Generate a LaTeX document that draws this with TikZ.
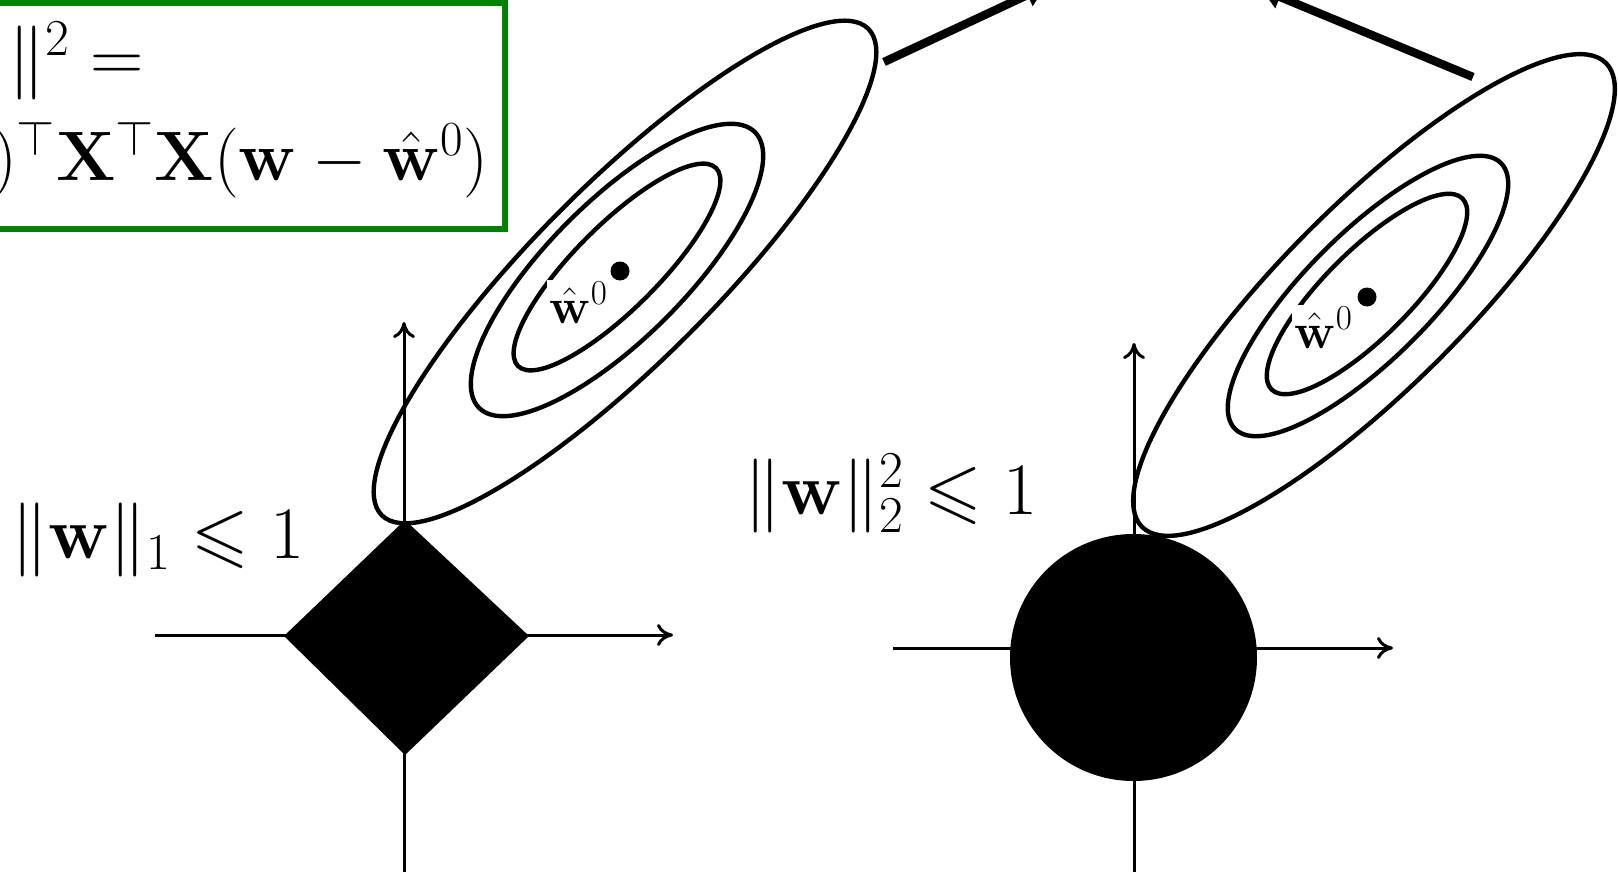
\RequirePackage{fix-cm}
\documentclass[tikz,border=0pt]{standalone}
\usepackage{amsmath,amssymb}
\usetikzlibrary{arrows.meta}
\definecolor{boxgreen}{RGB}{0,128,0}
\begin{document}
\begin{tikzpicture}[x=0.5pt,y=-0.5pt,
  contour/.style={line width=2.2pt},
  axis/.style={line width=1.5pt,-{To[length=8pt,width=11pt]}},
  bigarrow/.style={line width=4.2pt,-{Latex[length=13pt,width=13pt]}},
  bigtext/.style={inner sep=0pt,font=\fontsize{37}{42}\selectfont},
  formtext/.style={inner sep=0pt,font=\fontsize{35}{40}\selectfont},
  minlabel/.style={fill=white,inner sep=1pt,font=\fontsize{25}{28}\selectfont},
  dot/.style={circle,fill=black,inner sep=0pt,minimum size=9.5pt}]
\useasboundingbox (0,0) rectangle (1618,872);

% green box with the formula
\draw[boxgreen,line width=3pt] (-20,3) rectangle (505,229);
\node[bigtext,anchor=base west] (f1) at (8,82) {$\|^2 =$};
\node[formtext,anchor=base east] (f2) at (489,181)
  {$)^{\top}\mathbf{X}^{\top}\mathbf{X}(\mathbf{w}-\hat{\mathbf{w}}^0)$};

% ---- left: L1 ball ----
\draw[contour,rotate around={45:(625,272)}] (625,272) ellipse [x radius=344, y radius=89];
\draw[contour,rotate around={45:(617,270)}] (617,270) ellipse [x radius=195, y radius=68.6];
\draw[contour,rotate around={45:(617,267)}] (617,267) ellipse [x radius=140, y radius=42];
\node[dot] (d1) at (620,271) {};
\node[minlabel,anchor=base west] (w1) at (547,323) {$\hat{\mathbf{w}}^0$};

\coordinate (h1s) at (155,635);
\coordinate (h1e) at (673,635);
\coordinate (v1s) at (404,872);
\coordinate (v1e) at (404,322);
\draw[axis] (h1s) -- (h1e);
\draw[axis] (v1s) -- (v1e);
\fill (405,520) -- (529,636) -- (405,755) -- (284,636) -- cycle;
\node[bigtext,anchor=base west] (l1) at (11,558) {$\|\mathbf{w}\|_1 \leqslant 1$};

% ---- right: L2 ball ----
\draw[contour,rotate around={45:(1374,295)}] (1374,295) ellipse [x radius=328, y radius=91.5];
\draw[contour,rotate around={45:(1368,296)}] (1368,296) ellipse [x radius=188, y radius=63];
\draw[contour,rotate around={45:(1367,294)}] (1367,294) ellipse [x radius=135, y radius=43];
\node[dot] (d2) at (1367,297) {};
\node[minlabel,anchor=base west] (w2) at (1292,348) {$\hat{\mathbf{w}}^0$};

\coordinate (h2s) at (893,648);
\coordinate (h2e) at (1393,648);
\coordinate (v2s) at (1134,872);
\coordinate (v2e) at (1134,343);
\draw[axis] (h2s) -- (h2e);
\draw[axis] (v2s) -- (v2e);
\fill (1133.5,657.5) circle [radius=123.5];
\node[bigtext,anchor=base west] (l2) at (744,514) {$\|\mathbf{w}\|_2^2 \leqslant 1$};

% ---- thick arrows to the top ----
\coordinate (a1s) at (884,62);
\coordinate (a1e) at (1051,-16);
\coordinate (a2s) at (1473,77);
\coordinate (a2e) at (1256,-13);
\draw[bigarrow] (a1s) -- (a1e);
\draw[bigarrow] (a2s) -- (a2e);
\end{tikzpicture}
\end{document}
